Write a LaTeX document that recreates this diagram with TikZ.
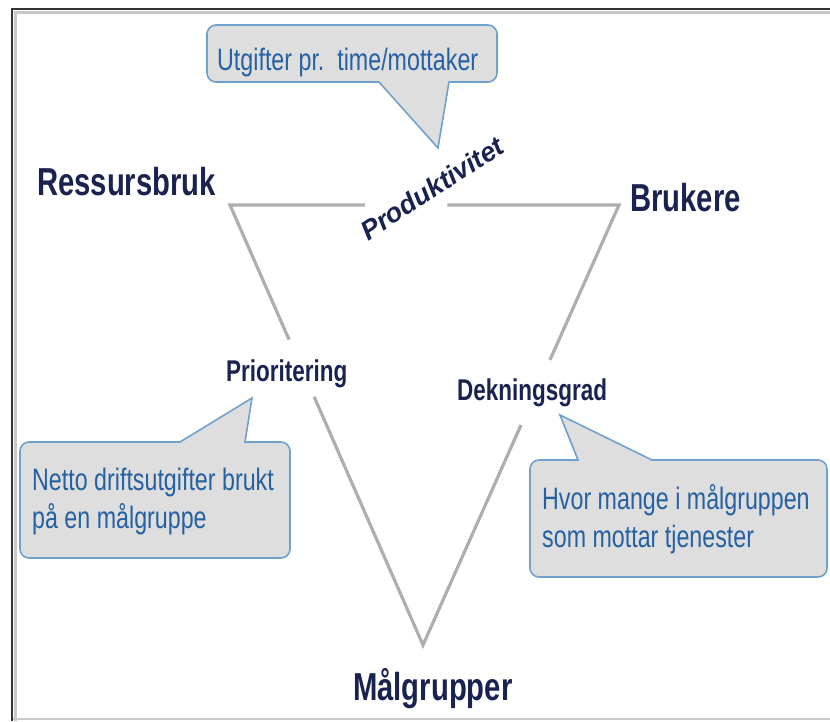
\documentclass[tikz,border=0pt]{standalone}
\usepackage{fontspec}
\setmainfont{Liberation Sans}[FakeStretch=0.75]
\newfontfamily\prodfont{Liberation Sans}
\usetikzlibrary{calc}
\definecolor{navy}{HTML}{1A2350}
\definecolor{note}{HTML}{2561A2}
\definecolor{notefill}{HTML}{DEDEDE}
\definecolor{noteline}{HTML}{72A0CC}
\definecolor{edgegray}{HTML}{AEAEAE}
\definecolor{framedark}{HTML}{333333}
\definecolor{framelight}{HTML}{C8C8C8}
\tikzset{
  edgeline/.style={draw=edgegray, line width=3.2pt},
  callout/.style={fill=notefill, draw=noteline, line width=1.6pt},
  corner/.style={text=navy, font=\fontsize{39}{39}\selectfont\bfseries, inner sep=0pt, anchor=base west},
  mid/.style={text=navy, font=\fontsize{30}{30}\selectfont\bfseries, inner sep=0pt, anchor=base west},
  notetext/.style={text=note, font=\fontsize{31}{38}\selectfont, inner sep=0pt, anchor=base west, align=left},
}

\begin{document}
\begin{tikzpicture}[x=1pt,y=-1pt]
  \useasboundingbox (0,0) rectangle (830,721);

  % frame
  \draw[framelight, line width=3pt] (830,12) -- (15,12) -- (15,721);
  \draw[framelight, line width=1.5pt] (12,719) -- (830,719);
  \draw[framedark, line width=2.5pt] (830,9) -- (12,9) -- (12,721);

  % corners of the triangle
  \coordinate (RB) at (230,205);
  \coordinate (BR) at (619,205);
  \coordinate (MG) at (423,645);

  % edges, with gaps for the middle labels
  \draw[edgeline] ($(RB)!0.306!(MG)$) -- (RB) -- ($(RB)!0.347!(BR)$);
  \draw[edgeline] ($(BR)!0.441!(RB)$) -- (BR) -- ($(BR)!0.352!(MG)$);
  \draw[edgeline] ($(RB)!0.436!(MG)$) -- (MG) -- ($(BR)!0.5!(MG)$);

  % callouts
  \draw[callout] (379,82) [rounded corners=9pt] -- (207,82) -- (207,25) -- (497,25) -- (497,82)
    [sharp corners] -- (449,82) -- (438,148) -- cycle;
  \draw[callout] (245,442) [rounded corners=9pt] -- (290,442) -- (290,558) -- (20,558) -- (20,442)
    [sharp corners] -- (180,442) -- (252,398) -- cycle;
  \draw[callout] (652,460) [rounded corners=9pt] -- (827,460) -- (827,577) -- (530,577) -- (530,460)
    [sharp corners] -- (578,460) -- (560,415) -- cycle;

  % base anchor of a two-line node sits on its last line
  \node[notetext] (utgift) at (217,70) {Utgifter pr.\ \ time/mottaker};
  \node[notetext] (netto) at (32,528) {Netto driftsutgifter brukt\\på en målgruppe};
  \node[notetext] (hvor) at (542,547) {Hvor mange i målgruppen\\som mottar tjenester};

  % labels
  \node[corner] (ressurs) at (37,195) {Ressursbruk};
  \node[corner] (brukere) at (630,211) {Brukere};
  \node[corner] (maal) at (353,700) {Målgrupper};
  \node[mid] (prior) at (226,381) {Prioritering};
  \node[mid] (dekning) at (457,400) {Dekningsgrad};
  \node[text=navy, font=\fontsize{27}{27}\selectfont\prodfont\bfseries\itshape,
    inner sep=0pt, rotate=33] (prod) at (432,188) {Produktivitet};
\end{tikzpicture}
\end{document}
